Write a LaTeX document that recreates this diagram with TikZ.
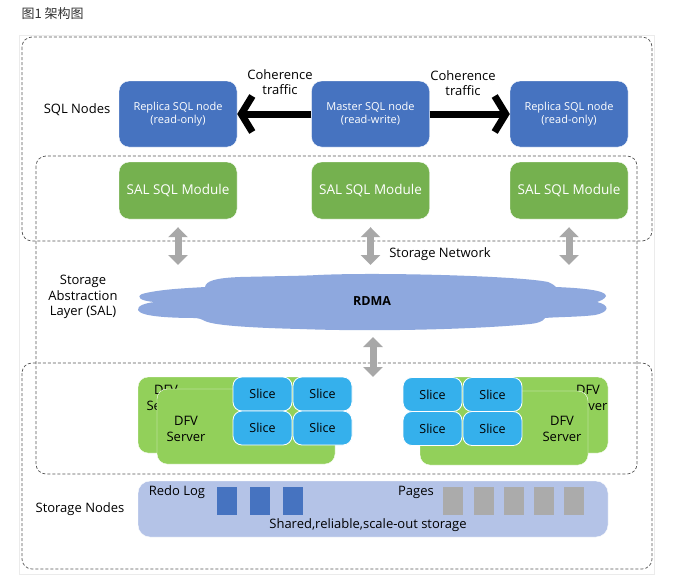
\documentclass[tikz,border=0pt]{standalone}
\usepackage{fontspec}
\setmainfont{Open Sans}
\newfontfamily\cjkfont{Noto Sans CJK SC}
\usepackage{xcolor}
\usetikzlibrary{arrows.meta}

\definecolor{sqlblue}{HTML}{4673C0}
\definecolor{salgreen}{HTML}{75B14F}
\definecolor{dfvgreen}{HTML}{92D05A}
\definecolor{sliceblue}{HTML}{35B0EC}
\definecolor{cloudblue}{HTML}{8EA8DE}
\definecolor{bandblue}{HTML}{B4C3E7}
\definecolor{arrowgray}{HTML}{A8A8A8}
\definecolor{pagegray}{HTML}{ABABAB}
\definecolor{dashgray}{HTML}{555555}

\tikzset{
    sqlnode/.style={fill=sqlblue, draw=white, rounded corners=10pt, text=white,
        minimum width=118pt, minimum height=66pt, align=center,
        font=\fontsize{11}{13}\selectfont},
    salnode/.style={fill=salgreen, draw=white, rounded corners=10pt, text=white,
        minimum width=118pt, minimum height=57pt, font=\fontsize{13.5}{15}\selectfont},
    dfvbox/.style={fill=dfvgreen, draw=white, rounded corners=10pt},
    slicebox/.style={fill=sliceblue, draw=white, line width=0.8pt, rounded corners=9pt,
        minimum width=59pt, minimum height=34pt, font=\fontsize{12.5}{14}\selectfont},
    bar/.style={minimum width=20pt, minimum height=28pt, inner sep=0pt},
    label/.style={align=center, font=\fontsize{13}{15.5}\selectfont},
    dashbox/.style={draw=dashgray, line width=0.7pt, dash pattern=on 3pt off 2pt, rounded corners=10pt},
    coharrow/.style={line width=7pt, -{Straight Barb[length=11pt, width=36pt]}},
    dblarrow/.style={draw=arrowgray, line width=7pt,
        {Triangle[length=10pt, width=19pt]}-{Triangle[length=10pt, width=19pt]}}
}

\begin{document}
\begin{tikzpicture}[x=1pt, y=-1pt]
    \useasboundingbox (0,0) rectangle (698,579);
    \fill[white] (0,0) rectangle (698,579);
    \draw[black!8] (19,35) rectangle (654,574);

    \node[anchor=west, text=black!80, font=\cjkfont\fontsize{13}{15}\selectfont] (title) at (18,14) {图1 架构图};

    % dashed areas
    \draw[dashbox] (22,37) rectangle (652,241);
    \draw[dashbox] (36,156) rectangle (637,474);
    \draw[dashbox] (22,363) rectangle (652,569);

    % SQL nodes
    \node[sqlnode] (r1) at (178,114) {Replica SQL node\\(read-only)};
    \node[sqlnode] (m) at (370.5,114) {Master SQL node\\(read-write)};
    \node[sqlnode] (r2) at (569,114) {Replica SQL node\\(read-only)};

    \node[label] (coh1) at (280,82) {Coherence\\traffic};
    \node[label] (coh2) at (463,83) {Coherence\\traffic};

    \draw[coharrow] (m.west) -- (r1.east);
    \draw[coharrow] (m.east) -- (r2.west);

    \node[salnode] (sal1) at (178,190.5) {SAL SQL Module};
    \node[salnode] (sal2) at (370.5,190.5) {SAL SQL Module};
    \node[salnode] (sal3) at (569,190.5) {SAL SQL Module};

    \node[label] (sqllabel) at (77,110) {SQL Nodes};
    \node[label] (sallabel) at (83,297) {Storage\\Abstraction\\Layer (SAL)};
    \node[label] (netlabel) at (440,254) {Storage Network};

    % RDMA cloud
    \fill[cloudblue] (155,302)
        .. controls (140,301) and (136,297) .. (142,294)
        .. controls (160,289) and (190,288) .. (205,287)
        .. controls (206,281) and (215,278) .. (240,277)
        .. controls (280,276) and (300,276) .. (318,275)
        .. controls (380,272) and (520,276) .. (548,282)
        .. controls (553,284) and (555,286) .. (556,287)
        .. controls (580,288) and (606,290) .. (606,296)
        .. controls (605,299) and (600,301) .. (597,302)
        .. controls (610,305) and (610,312) .. (595,315)
        .. controls (580,317) and (555,317) .. (545,318)
        .. controls (542,322) and (538,323) .. (530,324)
        .. controls (480,329) and (380,332) .. (300,329)
        .. controls (260,328) and (215,326) .. (205,321)
        .. controls (201,319) and (198,318) .. (196,318)
        .. controls (175,318) and (140,317) .. (138,310)
        .. controls (137,306) and (145,303) .. (155,302) -- cycle;
    \node[font=\bfseries\fontsize{12.5}{14}\selectfont] (rdma) at (372,301) {RDMA};

    \coordinate (cloudtop) at (373,275);
    \coordinate (cloudbot) at (373,330);
    \coordinate (storetop) at (373,377);

    \draw[dblarrow, shorten <=8pt, shorten >=10pt] (sal1.south) -- (sal1.south |- cloudtop);
    \draw[dblarrow, shorten <=8pt, shorten >=10pt] (sal2.south) -- (sal2.south |- cloudtop);
    \draw[dblarrow, shorten <=8pt, shorten >=10pt] (sal3.south) -- (sal3.south |- cloudtop);
    \draw[dblarrow, shorten <=7pt] (cloudbot) -- (storetop);

    % DFV servers
    \node[dfvbox, minimum width=179pt, minimum height=76pt] (dfv1b) at (227.5,415) {};
    \node[label] (dfv1bt) at (166,398) {DFV\\Server};
    \node[dfvbox, minimum width=178pt, minimum height=75pt] (dfv1) at (246,426.5) {};
    \node[label] (dfv1t) at (186,429) {DFV\\Server};

    \node[dfvbox, minimum width=170pt, minimum height=76pt] (dfv2b) at (523,415) {};
    \node[label] (dfv2bt) at (588,398) {DFV\\Server};
    \node[dfvbox, minimum width=168pt, minimum height=74pt] (dfv2) at (504,428) {};
    \node[label] (dfv2t) at (562,429) {DFV\\Server};

    \node[slicebox] (s1) at (262.5,394) {Slice};
    \node[slicebox] (s2) at (322.5,394) {Slice};
    \node[slicebox] (s3) at (262.5,428) {Slice};
    \node[slicebox] (s4) at (322.5,428) {Slice};
    \node[slicebox] (s5) at (432.5,394.5) {Slice};
    \node[slicebox] (s6) at (492.5,394.5) {Slice};
    \node[slicebox] (s7) at (432.5,428.5) {Slice};
    \node[slicebox] (s8) at (492.5,428.5) {Slice};

    % storage nodes
    \node[fill=bandblue, draw=white, rounded corners=12pt, minimum width=470pt, minimum height=56pt] (store) at (373,509) {};
    \node[label] (storelabel) at (80,509) {Storage Nodes};
    \node[label] (redolabel) at (177,492) {Redo Log};
    \node[label] (pagelabel) at (416,492) {Pages};
    \node[label] (storetext) at (368,525) {Shared,reliable,scale-out storage};

    \node[bar, fill=sqlblue] (redo1) at (226.5,501) {};
    \node[bar, fill=sqlblue] (redo2) at (260,501) {};
    \node[bar, fill=sqlblue] (redo3) at (293,501) {};
    \node[bar, fill=pagegray] (page1) at (453,501) {};
    \node[bar, fill=pagegray] (page2) at (484,501) {};
    \node[bar, fill=pagegray] (page3) at (514,501) {};
    \node[bar, fill=pagegray] (page4) at (544,501) {};
    \node[bar, fill=pagegray] (page5) at (573.5,501) {};
\end{tikzpicture}
\end{document}
